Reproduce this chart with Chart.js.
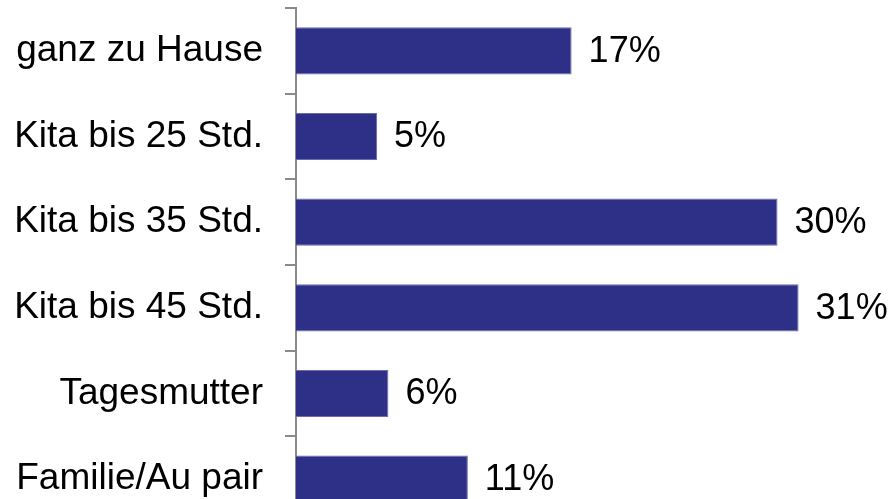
<!DOCTYPE html>
<html>
<head>
<meta charset="utf-8">
<script src="https://cdn.jsdelivr.net/npm/chart.js@4/dist/chart.umd.min.js"></script>
<style>
  html, body { margin: 0; padding: 0; background: #fff; overflow: hidden; }
  canvas { display: block; }
</style>
</head>
<body>
<canvas id="myChart" width="891" height="530" style="width:891px;height:530px"></canvas>
<script>
// Data for the bar graph
const categories = ["ganz zu Hause", "Kita bis 25 Std.", "Kita bis 35 Std.", "Kita bis 45 Std.", "Tagesmutter", "Familie/Au pair"];
const shares = [17, 5, 29.7, 31, 5.7, 10.6];
const shareLabels = ["17%", "5%", "30%", "31%", "6%", "11%"];

const barColor = "#2e3088";
const fontFamily = "'Liberation Sans', Arial, sans-serif";

// writes the percent next to each bar
const valueLabels = {
	id: "valueLabels",
	afterDatasetsDraw(chart) {
		const ctx = chart.ctx;
		const meta = chart.getDatasetMeta(0);
		ctx.save();
		ctx.font = "36px " + fontFamily;
		ctx.fillStyle = "#000";
		ctx.textAlign = "left";
		ctx.textBaseline = "middle";
		meta.data.forEach((bar, i) => {
			ctx.fillText(shareLabels[i], bar.x + 17, bar.y + 1);
		});
		ctx.restore();
	}
};

let ctx = document.getElementById("myChart");

const config = {
	type: "bar",
	data: {
		labels: categories,
		datasets: [{
			data: shares,
			backgroundColor: barColor,
			borderColor: "#6a6cae",
			borderWidth: { top: 1, bottom: 1, right: 1, left: 0 },
			borderSkipped: false,
			categoryPercentage: 1,
			barPercentage: 0.55
		}]
	},
	options: {
		indexAxis: "y",
		responsive: false,
		animation: false,
		layout: { padding: { top: 8, bottom: 8, left: 0, right: 0 } },
		plugins: {
			legend: { display: false },
			title: { display: false },
			tooltip: { enabled: false }
		},
		scales: {
			x: {
				display: false,
				min: 0,
				max: 36.7
			},
			y: {
				offset: true,
				afterFit: (scale) => {
					scale.width = 296;
					scale.paddingTop = 0;
					scale.paddingBottom = 0;
				},
				grid: {
					display: true,
					offset: true,
					drawOnChartArea: false,
					drawTicks: true,
					tickLength: 11,
					color: "#8a8a8a",
					lineWidth: 2
				},
				border: { display: true, color: "#8a8a8a", width: 2 },
				ticks: {
					color: "#000",
					padding: 22,
					font: { family: fontFamily, size: 37 }
				}
			}
		}
	},
	plugins: [valueLabels]
};

let myChart = new Chart(ctx, config);
</script>
</body>
</html>
